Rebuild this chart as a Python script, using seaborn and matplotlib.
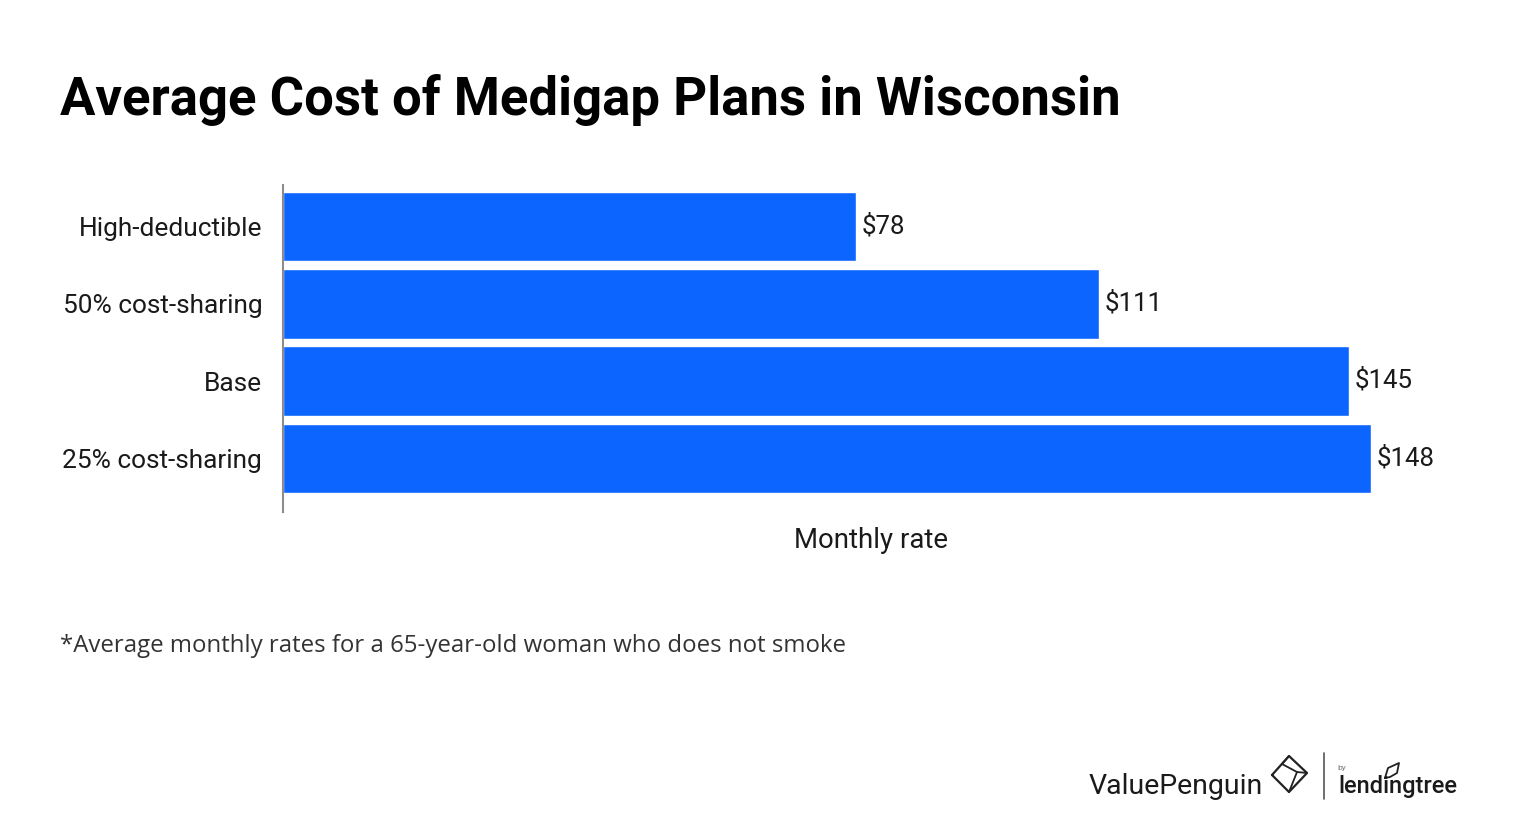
import matplotlib
matplotlib.use("Agg")
import matplotlib.pyplot as plt
from matplotlib.lines import Line2D
import pandas as pd
import seaborn as sns

plans = ["High-deductible", "50% cost-sharing", "Base", "25% cost-sharing"]
rates = [78, 111, 145, 148]
value_labels = ["$78", "$111", "$145", "$148"]
title = "Average Cost of Medigap Plans in Wisconsin"
xlabel = "Monthly rate"
note = "*Average monthly rates for a 65-year-old woman who does not smoke"

sns.set_style("white")
plt.rcParams["font.family"] = ["Roboto", "DejaVu Sans"]

W, H = 1520, 832
fig = plt.figure(figsize=(W / 100, H / 100), dpi=100, facecolor="white")
ax = fig.add_axes([283 / W, 1 - 512 / H, (1460 - 283) / W, (512 - 185) / H])

df = pd.DataFrame({"plan": plans, "rate": rates})
sns.barplot(data=df, y="plan", x="rate", orient="h", color="#0d65ff", saturation=1,
            width=0.9, ax=ax)
ax.set_xlim(0, 160.1)
ax.set_ylim(3.69, -0.537)
ax.set_xlabel("")
ax.set_ylabel("")
ax.set_xticks([])
ax.tick_params(axis="y", length=0, pad=15, labelsize=18.9, labelcolor="#1a1a1a")
for s in ["top", "right", "bottom"]:
    ax.spines[s].set_visible(False)
ax.spines["left"].set_color("#8c8c8c")
ax.spines["left"].set_linewidth(1.5)
ax.patch.set_alpha(0)

for i, (v, lab) in enumerate(zip(rates, value_labels)):
    ax.annotate(lab, xy=(v, i), xytext=(4, 0.5), textcoords="offset points", va="center",
                ha="left", fontsize=18.6, color="#1a1a1a")

fig.text(871 / W, 1 - 540 / H, xlabel, ha="center", va="center", fontsize=19.9, color="#1a1a1a")
fig.text(60 / W, 1 - 100 / H, title, ha="left", va="center", fontsize=37.9, weight="bold",
         color="black")
fig.text(60 / W, 1 - 646 / H, note, ha="left", va="center", fontsize=17.3, color="#333333",
         family=["Open Sans", "DejaVu Sans"])

# brand mark
fig.text(1089 / W, 1 - 786 / H, "ValuePenguin", ha="left", va="center", fontsize=20.5, color="#1a1a1a")
fig.text(1338 / W, 1 - 786 / H, "lendingtree", ha="left", va="center", fontsize=17, weight="medium",
         color="#1a1a1a")
fig.text(1337 / W, 1 - 768 / H, "by", ha="left", va="center", fontsize=6, color="#777777")
def seg(xs, ys, lw=1.6, c="#222222"):
    fig.add_artist(Line2D([x / W for x in xs], [1 - y / H for y in ys], color=c, lw=lw))
seg([1272, 1289, 1307, 1289, 1272], [775, 756, 773, 792, 775])
seg([1282, 1297, 1289], [764, 772, 792], lw=1.3)
seg([1289, 1282], [756, 764], lw=1.3)
seg([1297, 1307], [772, 773], lw=1.3)
seg([1324, 1324], [753, 799], lw=1.2, c="#555555")
seg([1385, 1388, 1399, 1397, 1390, 1385], [778, 768, 763, 773, 777, 778], lw=1.3)

fig.savefig("out.png", dpi=100, facecolor="white")
